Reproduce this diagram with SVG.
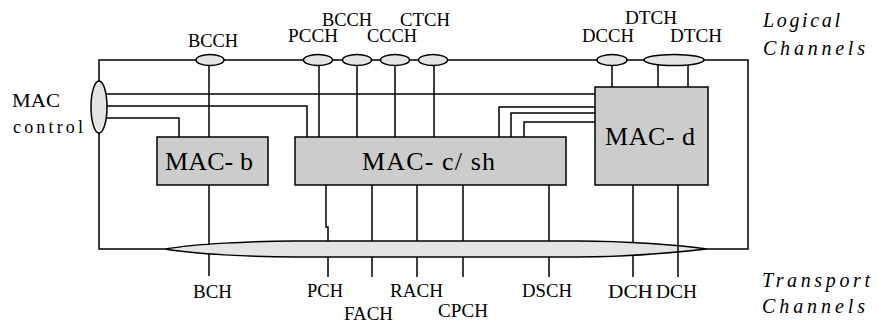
<svg xmlns="http://www.w3.org/2000/svg" width="878" height="324" viewBox="0 0 878 324">
<style>
.ln{fill:none;stroke:#000;stroke-width:1.5}
.box{fill:#cccccc;stroke:#000;stroke-width:1.5}
.ell{fill:#e4e4e4;stroke:#000;stroke-width:1.5}
.lbl{font-family:"Liberation Serif",serif;font-size:18px;fill:#000}
.big{font-family:"Liberation Serif",serif;font-size:26px;fill:#000}
.it{font-family:"Liberation Serif",serif;font-style:italic;font-size:20px;fill:#000}
</style>
<rect width="878" height="324" fill="#fff"/>
<g id="connectors">
<path class="ln" d="M165,249 H99 V60 H748 V249 H707"/>
<path class="ln" d="M209,60 V137 M209,185 V276"/>
<path class="ln" d="M106,94 H595 M106,106 H307 V137 M106,118 H179 V137"/>
<path class="ln" d="M319,60 V137 M357,60 V137 M395,60 V137 M434,60 V137"/>
<path class="ln" d="M595,107 H499 V137 M595,113 H511 V137 M595,122 H524 V137"/>
<path class="ln" d="M612,60 V87 M658,60 V87 M688,60 V87"/>
<path class="ln" d="M326,185 V227 H328 V277 M372,185 V277 M417,185 V277 M463,185 V277 M549,185 V277 M633,185 V277"/>
</g>
<g id="transport-bus">
<path class="ell" d="M165,249 C195,244 250,241 295,241 L578,241 C625,241 680,245 707,249 C680,252 625,257 578,257 L295,257 C250,257 195,254 165,249 Z"/>
<path class="ln" d="M678,185 V277"/>
</g>
<g id="mac-control">
<ellipse class="ell" cx="99" cy="107" rx="8" ry="26"/>
<text class="lbl" x="12" y="107" font-size="21" textLength="48" lengthAdjust="spacingAndGlyphs">MAC</text>
<text class="lbl" x="13" y="133" font-size="19" textLength="70">control</text>
</g>
<g id="logical-channels">
<ellipse class="ell" cx="210" cy="60" rx="14" ry="5.5"/>
<ellipse class="ell" cx="318" cy="60" rx="14.5" ry="5.5"/>
<ellipse class="ell" cx="357" cy="60" rx="14.5" ry="5.5"/>
<ellipse class="ell" cx="395" cy="60" rx="14.5" ry="5.5"/>
<ellipse class="ell" cx="433" cy="60" rx="14.5" ry="5.5"/>
<ellipse class="ell" cx="612" cy="60" rx="15" ry="5.5"/>
<ellipse class="ell" cx="674" cy="60" rx="30" ry="5.5"/>
<text class="lbl" x="188" y="47" textLength="50" lengthAdjust="spacingAndGlyphs">BCCH</text>
<text class="lbl" x="288" y="42" textLength="50" lengthAdjust="spacingAndGlyphs">PCCH</text>
<text class="lbl" x="322" y="26" textLength="50" lengthAdjust="spacingAndGlyphs">BCCH</text>
<text class="lbl" x="367" y="42" textLength="50" lengthAdjust="spacingAndGlyphs">CCCH</text>
<text class="lbl" x="400" y="26" textLength="50" lengthAdjust="spacingAndGlyphs">CTCH</text>
<text class="lbl" x="582" y="42" textLength="52" lengthAdjust="spacingAndGlyphs">DCCH</text>
<text class="lbl" x="625" y="24" textLength="52" lengthAdjust="spacingAndGlyphs">DTCH</text>
<text class="lbl" x="670" y="42" textLength="52" lengthAdjust="spacingAndGlyphs">DTCH</text>
<text class="it" x="763" y="27" textLength="77">Logical</text>
<text class="it" x="763" y="55" textLength="102">Channels</text>
</g>
<g id="mac-b">
<rect class="box" x="157" y="137" width="111" height="48"/>
<text class="big" x="165" y="170" textLength="88">MAC- b</text>
</g>
<g id="mac-csh">
<rect class="box" x="295" y="137" width="271" height="48"/>
<text class="big" x="362" y="170" textLength="133">MAC- c/ sh</text>
</g>
<g id="mac-d">
<rect class="box" x="595" y="87" width="113" height="98"/>
<text class="big" x="605" y="145" textLength="90">MAC- d</text>
</g>
<g id="transport-labels">
<text class="lbl" x="193" y="298" textLength="39" lengthAdjust="spacingAndGlyphs">BCH</text>
<text class="lbl" x="307" y="297" textLength="36" lengthAdjust="spacingAndGlyphs">PCH</text>
<text class="lbl" x="344" y="320" textLength="49" lengthAdjust="spacingAndGlyphs">FACH</text>
<text class="lbl" x="390" y="297" textLength="53" lengthAdjust="spacingAndGlyphs">RACH</text>
<text class="lbl" x="438" y="317" textLength="50" lengthAdjust="spacingAndGlyphs">CPCH</text>
<text class="lbl" x="522" y="297" textLength="50" lengthAdjust="spacingAndGlyphs">DSCH</text>
<text class="lbl" x="608" y="298" textLength="45" lengthAdjust="spacingAndGlyphs">DCH</text>
<text class="lbl" x="656" y="298" textLength="41" lengthAdjust="spacingAndGlyphs">DCH</text>
<text class="it" x="762" y="287" textLength="108">Transport</text>
<text class="it" x="762" y="313" textLength="103">Channels</text>
</g>
</svg>
